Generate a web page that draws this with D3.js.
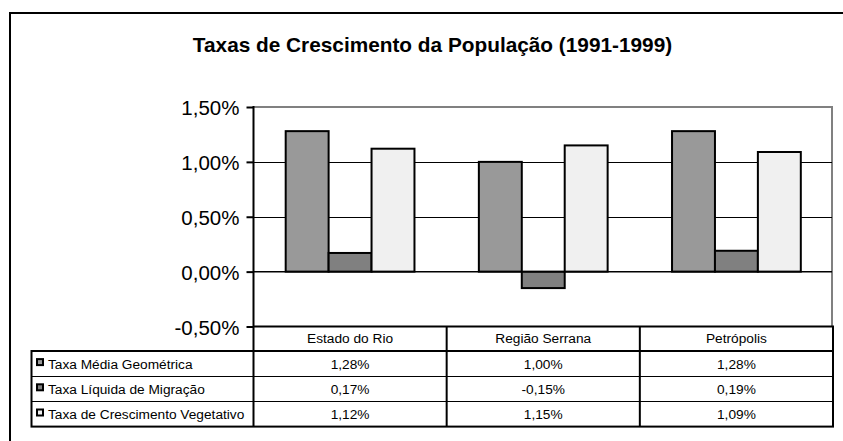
<!DOCTYPE html>
<html>
<head>
<meta charset="utf-8">
<script src="https://cdn.jsdelivr.net/npm/d3@7"></script>
<style>
  body { margin: 0; background: #fff; }
  svg { display: block; font-family: "Liberation Sans", Arial, sans-serif; }
</style>
</head>
<body>
<svg id="chart" width="843" height="441"></svg>
<script>
// data
const categories = ['Estado do Rio', 'Região Serrana', 'Petrópolis']
const seriesNames = ['Taxa Média Geométrica', 'Taxa Líquida de Migração', 'Taxa de Crescimento Vegetativo']
const mediaGeometrica = [1.28, 1.00, 1.28]
const liquidaMigracao = [0.17, -0.15, 0.19]
const crescVegetativo = [1.12, 1.15, 1.09]
const yTicks = [-0.5, 0, 0.5, 1.0, 1.5]
const title = 'Taxas de Crescimento da População (1991-1999)'

const seriesValues = [mediaGeometrica, liquidaMigracao, crescVegetativo]
const seriesColors = ['#999999', '#808080', '#f0f0f0']

const svg = d3.select('#chart')
const plot = {left: 253.5, right: 832, top: 107, bottom: 326.5}
const tableLeft = 31.5
const rowH = 25.2
const headerBottom = 351
const fontFam = '"Liberation Sans", Arial, sans-serif'
const tableFont = 13.7

// pt-BR style: comma decimal, plain hyphen for negatives
const fmt = v => d3.format('.2f')(v).replace('.', ',').replace('\u2212', '-') + '%'

// outer frame (cropped at right and bottom)
svg.append('path')
  .attr('d', 'M10,441 L10,13 L843,13')
  .attr('fill', 'none')
  .attr('stroke', '#000')
  .attr('stroke-width', 2)

svg.append('text')
  .attr('x', 432.5)
  .attr('y', 52)
  .attr('text-anchor', 'middle')
  .attr('font-weight', 'bold')
  .attr('font-size', 20.8)
  .text(title)

const x = d3.scaleBand()
  .domain(categories)
  .range([plot.left, plot.right + 1])
  .paddingInner(0)
  .paddingOuter(0)

const xs = d3.scaleBand()
  .domain(d3.range(seriesNames.length))
  .range([0, x.bandwidth()])
  .paddingInner(0)
  .paddingOuter(0.75)

const y = d3.scaleLinear()
  .domain([-0.5, 1.5])
  .range([plot.bottom, plot.top])

// plot area border (gray top/right)
svg.append('path')
  .attr('d', `M${plot.left},${plot.top} L${plot.right},${plot.top} L${plot.right},${plot.bottom}`)
  .attr('fill', 'none')
  .attr('stroke', '#808080')
  .attr('stroke-width', 2)

// gridlines
svg.selectAll('line.grid')
  .data([0.5, 1.0])
  .enter()
  .append('line')
  .attr('class', 'grid')
  .attr('x1', plot.left)
  .attr('x2', plot.right)
  .attr('y1', d => Math.round(y(d)) + 0.5)
  .attr('y2', d => Math.round(y(d)) + 0.5)
  .attr('stroke', '#000')
  .attr('stroke-width', 1)

// bars
const groups = svg.selectAll('g.series')
  .data(seriesValues)
  .enter()
  .append('g')
  .attr('class', 'series')
  .attr('fill', (d, i) => seriesColors[i])

groups.each(function(vals, si) {
  d3.select(this).selectAll('rect')
    .data(vals)
    .enter()
    .append('rect')
    .attr('x', (d, ci) => x(categories[ci]) + xs(si))
    .attr('width', xs.bandwidth())
    .attr('y', d => y(Math.max(0, d)))
    .attr('height', d => Math.abs(y(d) - y(0)))
    .attr('stroke', '#000')
    .attr('stroke-width', 2)
})

// zero line
svg.append('line')
  .attr('x1', plot.left)
  .attr('x2', plot.right)
  .attr('y1', y(0))
  .attr('y2', y(0))
  .attr('stroke', '#000')
  .attr('stroke-width', 1.5)

// y axis
const yAxis = svg.append('g')
  .attr('transform', `translate(${plot.left},0)`)
  .call(d3.axisLeft(y).tickValues(yTicks).tickSize(7).tickFormat(fmt))
yAxis.select('.domain').remove()
yAxis.selectAll('.tick line').attr('stroke', '#000').attr('stroke-width', 2)
yAxis.selectAll('.tick text')
  .attr('x', -14)
  .attr('dy', '0.37em')
  .attr('font-size', 20.5)
  .attr('font-family', fontFam)
  .attr('fill', '#000')

svg.append('line')
  .attr('x1', plot.left).attr('x2', plot.left)
  .attr('y1', plot.top - 1).attr('y2', headerBottom + rowH * 3)
  .attr('stroke', '#000')
  .attr('stroke-width', 2)

// data table
const tableBottom = headerBottom + rowH * 3
const tableRight = plot.right + 1

// header row
svg.append('path')
  .attr('d', `M${plot.left},${plot.bottom} L${tableRight},${plot.bottom} L${tableRight},${tableBottom}`)
  .attr('fill', 'none')
  .attr('stroke', '#000')
  .attr('stroke-width', 2)

svg.selectAll('text.cat')
  .data(categories)
  .enter()
  .append('text')
  .attr('class', 'cat')
  .attr('x', d => x(d) + x.bandwidth() / 2)
  .attr('y', (plot.bottom + headerBottom) / 2)
  .attr('dy', '0.33em')
  .attr('text-anchor', 'middle')
  .attr('font-size', tableFont)
  .text(d => d)

// column separators
svg.selectAll('line.col')
  .data(categories.slice(1))
  .enter()
  .append('line')
  .attr('class', 'col')
  .attr('x1', d => x(d)).attr('x2', d => x(d))
  .attr('y1', plot.bottom).attr('y2', tableBottom)
  .attr('stroke', '#000')
  .attr('stroke-width', 2)

// row separators
svg.selectAll('line.row')
  .data([1, 2])
  .enter()
  .append('line')
  .attr('class', 'row')
  .attr('x1', tableLeft).attr('x2', tableRight)
  .attr('y1', d => Math.round(headerBottom + rowH * d) + 0.5)
  .attr('y2', d => Math.round(headerBottom + rowH * d) + 0.5)
  .attr('stroke', '#000')
  .attr('stroke-width', 1)

// legend rows outer box
svg.append('rect')
  .attr('x', tableLeft)
  .attr('y', headerBottom)
  .attr('width', tableRight - tableLeft)
  .attr('height', rowH * 3)
  .attr('fill', 'none')
  .attr('stroke', '#000')
  .attr('stroke-width', 2)

const rows = svg.selectAll('g.row')
  .data(seriesNames)
  .enter()
  .append('g')
  .attr('class', 'row')
  .attr('transform', (d, i) => `translate(0,${headerBottom + rowH * i + rowH / 2})`)

rows.append('rect')
  .attr('x', 37)
  .attr('y', -4.5)
  .attr('width', 6)
  .attr('height', 6)
  .attr('fill', (d, i) => seriesColors[i])
  .attr('stroke', '#000')
  .attr('stroke-width', 2)

rows.append('text')
  .attr('x', 48)
  .attr('dy', '0.36em')
  .attr('font-size', tableFont)
  .text(d => d)

rows.each(function(name, si) {
  d3.select(this).selectAll('text.val')
    .data(seriesValues[si])
    .enter()
    .append('text')
    .attr('class', 'val')
    .attr('x', (d, ci) => x(categories[ci]) + x.bandwidth() / 2)
    .attr('dy', '0.36em')
    .attr('text-anchor', 'middle')
    .attr('font-size', tableFont)
    .text(d => fmt(d))
})
</script>
</body>
</html>
